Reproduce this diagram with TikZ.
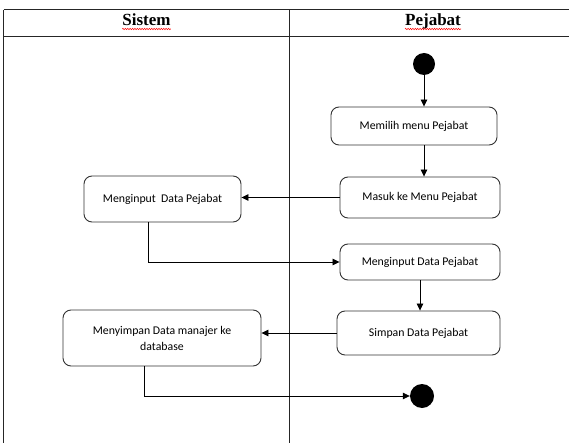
\documentclass[tikz,border=0pt]{standalone}
\usepackage{fontspec}
\setmainfont{Carlito}
\newfontfamily\headfont{Liberation Serif}
\usetikzlibrary{arrows.meta,decorations.pathmorphing}

\begin{document}
\begin{tikzpicture}[x=1pt,y=-1pt,
  act/.style={draw=black!80, line width=0.9pt, rounded corners=8pt, align=center,
    font=\fontsize{11.8}{16}\selectfont, inner sep=0pt},
  flow/.style={draw=black, line width=0.8pt, -{Triangle[length=7pt,width=6.5pt]}},
  grid/.style={draw=black!85, line width=1pt},
  lane/.style={font=\headfont\bfseries\fontsize{17}{19}\selectfont, inner sep=0pt, anchor=base},
  spell/.style={draw=red, line width=0.5pt, decorate,
    decoration={snake, amplitude=0.7pt, segment length=2.4pt}},
  dot/.style={circle, fill=black, inner sep=0pt}
]
\useasboundingbox (0,0) rectangle (569,443);

% swimlane table
\draw[grid] (3.5,10) -- (600,10);
\draw[grid] (3.5,36.5) -- (600,36.5);
\draw[grid] (3.5,10) -- (3.5,460);
\draw[grid] (289,10) -- (289,460);

% lane headers
\node[lane] (hsis) at (146.5,26) {Sistem};
\node[lane] (hpej) at (433,26) {Pejabat};
\draw[spell] ([yshift=-3pt]hsis.base west) -- ([yshift=-3pt]hsis.base east);
\draw[spell] ([yshift=-3pt]hpej.base west) -- ([yshift=-3pt]hpej.base east);

% start / end
\node[dot, minimum size=22pt] (start) at (424,64) {};
\node[dot, minimum size=24pt] (finish) at (422,396) {};

% activities
\node[act, minimum width=166pt, minimum height=38pt] (memilih) at (414,126) {Memilih menu Pejabat};
\node[act, minimum width=160pt, minimum height=41pt] (masuk) at (420,197.5) {Masuk ke Menu Pejabat};
\node[act, minimum width=157pt, minimum height=46pt] (inputsis) at (162.5,199) {Menginput\ \ Data Pejabat};
\node[act, minimum width=160pt, minimum height=36pt] (inputpej) at (420,262) {Menginput Data Pejabat};
\node[act, minimum width=163pt, minimum height=44pt] (simpan) at (418.5,333) {Simpan Data Pejabat};
\node[act, minimum width=198pt, minimum height=56pt] (menyimpan) at (162,338) {Menyimpan Data manajer ke\\database};

% flows
\draw[flow] (start) -- (start |- memilih.north);
\draw[flow] (memilih.south -| start) -- (masuk.north -| start);
\draw[flow] (masuk.west) -- (masuk.west -| inputsis.east);
\draw[flow] ([xshift=-14.5pt]inputsis.south) |- (inputpej.west);
\draw[flow] (inputpej.south) -- (simpan.north -| inputpej.south);
\draw[flow] (simpan.west) -- (simpan.west -| menyimpan.east);
\draw[flow] ([xshift=-18pt]menyimpan.south) |- (finish.west);
\end{tikzpicture}
\end{document}
